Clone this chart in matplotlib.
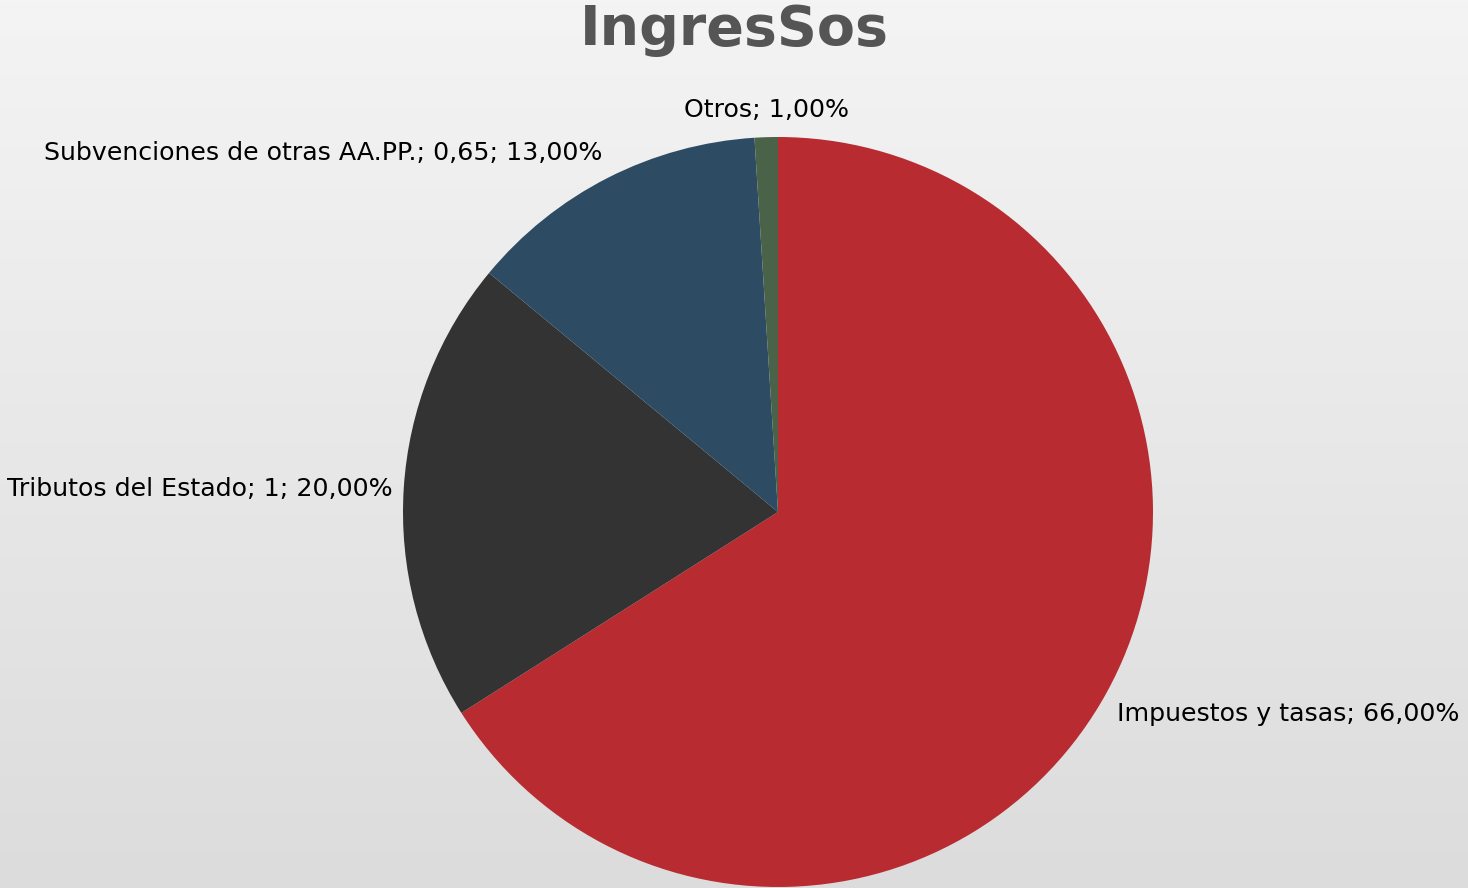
import matplotlib
matplotlib.use("Agg")
import matplotlib.pyplot as plt
import numpy as np

labels = ["Impuestos y tasas; 66,00%", "Tributos del Estado; 1; 20,00%",
          "Subvenciones de otras AA.PP.; 0,65; 13,00%", "Otros; 1,00%"]
shares = [66, 20, 13, 1]
colors = ["#b82c31", "#333333", "#2d4b63", "#4a6248"]

plt.rcParams['font.family'] = ['DejaVu Sans']

fig = plt.figure(figsize=(14.68, 8.88), dpi=100)

# background gradient
bg = fig.add_axes([0, 0, 1, 1], zorder=-1)
grad = np.linspace(244, 220, 256).reshape(-1, 1) / 255.0
bg.imshow(np.dstack([grad, grad, grad]), aspect='auto', extent=[0, 1, 0, 1])
bg.axis('off')

ax = fig.add_axes([0, 0, 1, 1])
ax.patch.set_alpha(0)
wedges, texts = ax.pie(shares, labels=labels, colors=colors, startangle=90,
                       counterclock=False, labeldistance=1.06,
                       wedgeprops=dict(linewidth=0),
                       textprops=dict(fontsize=18.2, color='black'))

# label placement (data units, radius = 1)
label_pos = [(0.904, -0.539, 'left'), (-1.029, 0.061, 'right'),
             (-0.467, 0.957, 'right'), (-0.032, 1.072, 'center')]
for t, (x, y, ha) in zip(texts, label_pos):
    t.set_position((x, y))
    t.set_ha(ha)
    t.set_va('center')

cx, cy, r = 778, 888 - 512, 375
ax.set_xlim(-cx / r, (1468 - cx) / r)
ax.set_ylim(-cy / r, (888 - cy) / r)
ax.set_aspect('equal')
ax.axis('off')

fig.text(0.5, 0.966, "IngresSos", ha='center', va='center', fontsize=40,
         fontweight='bold', color='#555555')

plt.savefig('out.png', dpi=100)
